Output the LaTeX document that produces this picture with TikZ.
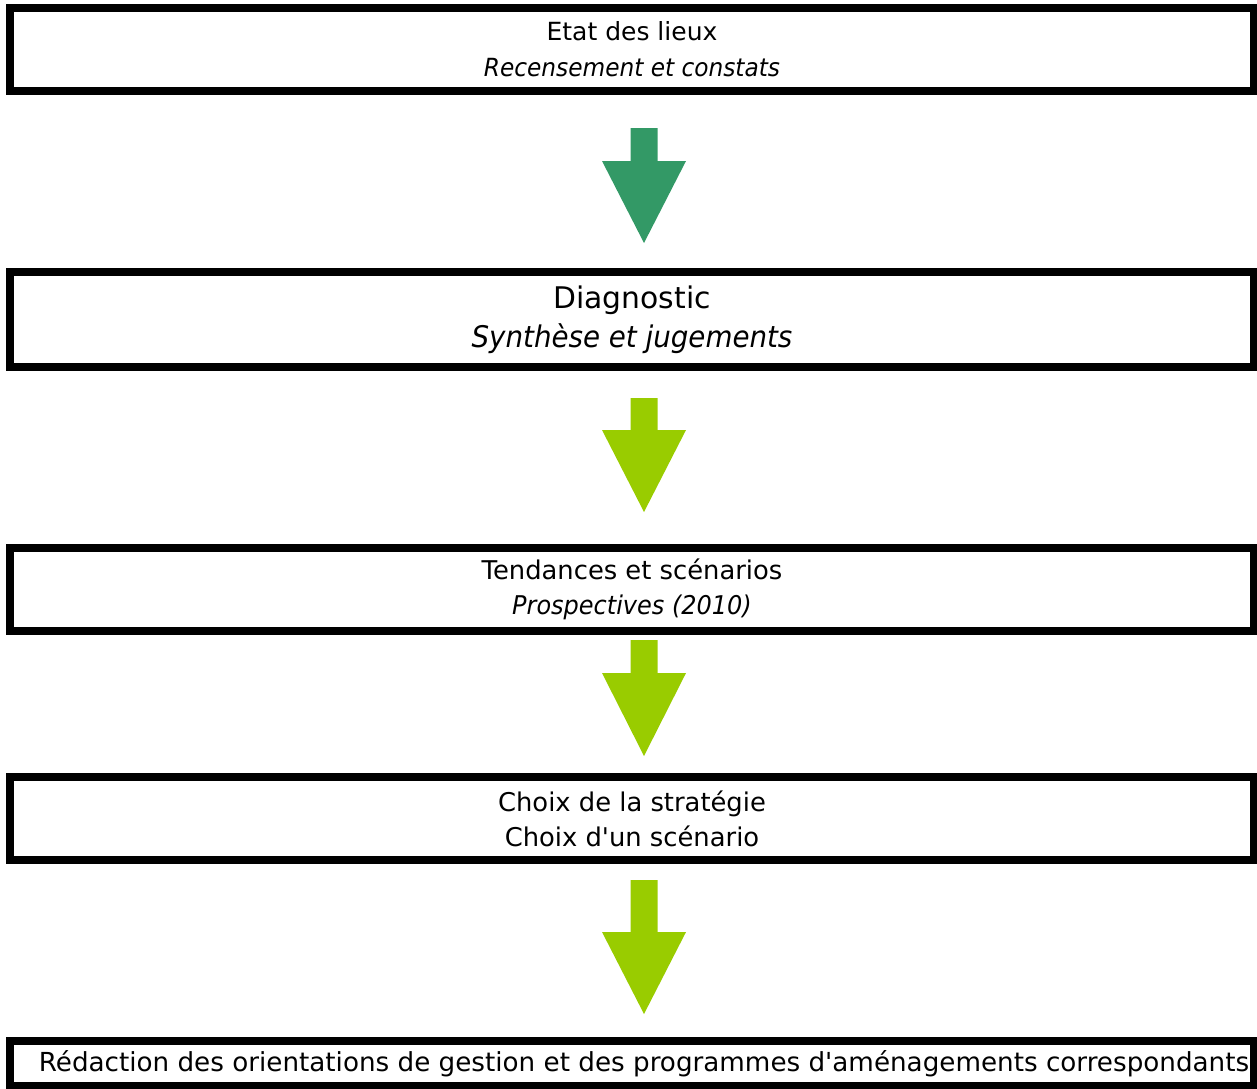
\documentclass[tikz,border=0pt]{standalone}
\usepackage{fontspec}
\setmainfont{DejaVu Sans}[Ligatures=TeXOff, ItalicFeatures={FakeStretch=0.93}]
\definecolor{stepdark}{HTML}{339966}
\definecolor{steplight}{HTML}{99CC00}
\begin{document}
\begin{tikzpicture}[x=0.5pt, y=-0.5pt,
    stage/.style={draw, line width=4pt, minimum width=622pt, inner sep=0pt,
      align=center, font=\fontsize{12.9}{17.5}\selectfont}]
  \useasboundingbox (0,0) rectangle (1257,1088);
  % the five stages
  \node[stage, minimum height=41.5pt, font=\fontsize{12.5}{18}\selectfont] (etat) at (632,49.5)
    {Etat des lieux\\\textit{Recensement et constats}};
  \node[stage, minimum height=47.5pt, font=\fontsize{14.9}{19.5}\selectfont] (diag) at (632,319.5)
    {Diagnostic\\\textit{Synthèse et jugements}};
  \node[stage, minimum height=41.5pt] (tend) at (632,589.5)
    {Tendances et scénarios\\\textit{Prospectives (2010)}};
  \node[stage, minimum height=41.5pt] (choix) at (632,818.5)
    {Choix de la stratégie\\Choix d'un scénario};
  \node[stage, minimum height=22.5pt, font=\fontsize{13.1}{16}\selectfont] (redac) at (632,1063.5)
    {\hspace*{12pt}Rédaction des orientations de gestion et des programmes d'aménagements correspondants};
  % block arrows between stages
  \foreach \top/\sh/\tip/\col in {128/161/243/stepdark, 398/430/512/steplight,
      640/673/756/steplight, 880/932/1014/steplight}
    \fill[\col] (630.5,\top) -- (657.5,\top) -- (657.5,\sh) -- (686,\sh)
      -- (644,\tip) -- (602,\sh) -- (630.5,\sh) -- cycle;
\end{tikzpicture}
\end{document}
